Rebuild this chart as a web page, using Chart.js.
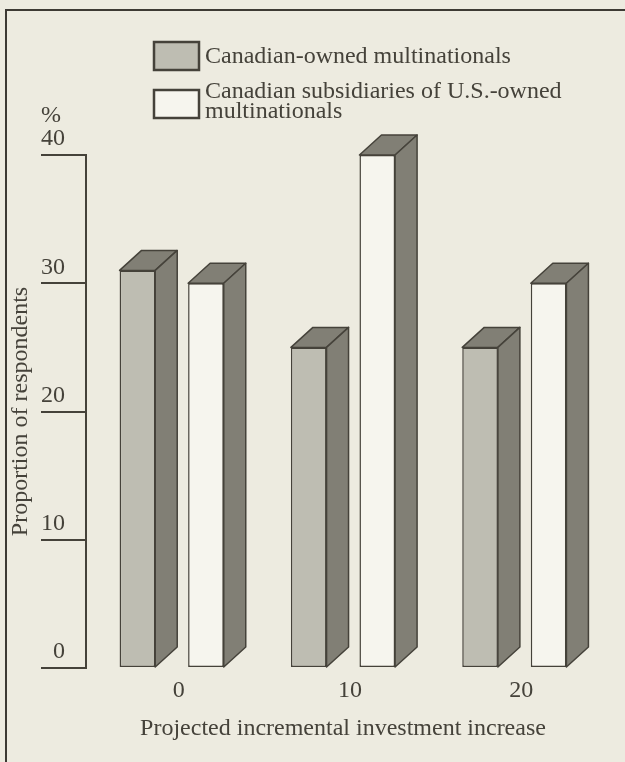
<!DOCTYPE html>
<html>
<head>
<meta charset="utf-8">
<script src="https://cdn.jsdelivr.net/npm/chart.js@4.4.1/dist/chart.umd.min.js"></script>
<style>
  html, body { margin: 0; padding: 0; background: #edebe0; overflow: hidden; }
  body { width: 625px; height: 762px; position: relative; }
  .frame {
    position: absolute; left: 5px; top: 9px; width: 700px; height: 800px;
    border-left: 2px solid #3d3a34; border-top: 2px solid #3d3a34;
  }
  .wrap { position: absolute; left: 0; top: 0; width: 625px; height: 762px; }
</style>
</head>
<body>
<div class="frame"></div>
<div class="wrap"><canvas id="chart" width="625" height="762"></canvas></div>
<script>
// Projected incremental investment increase (categories)
const categories = ['0', '10', '20'];
// Proportion of respondents, %
const canadianOwned = [31, 25, 25];
const usSubsidiaries = [30, 40, 30];
const seriesNames = ['Canadian-owned multinationals', ['Canadian subsidiaries of U.S.-owned', 'multinationals']];
const yTicks = [0, 10, 20, 30, 40];

const INK = '#45423a';
const GREY_FACE = '#bebdb2';
const WHITE_FACE = '#f6f5ee';
const DARK_FACE = '#817f75';
const FONT = '"Liberation Serif", "Times New Roman", serif';

// Draws the extruded top and right-hand faces of each bar
const bar3d = {
  id: 'bar3d',
  afterDatasetsDraw(chart) {
    const ctx = chart.ctx;
    const dx = 22, dy = 20;
    chart.data.datasets.forEach((ds, i) => {
      const meta = chart.getDatasetMeta(i);
      meta.data.forEach(bar => {
        const p = bar.getProps(['x', 'y', 'base', 'width'], true);
        const l = p.x - p.width / 2, r = p.x + p.width / 2;
        ctx.save();
        ctx.fillStyle = DARK_FACE;
        ctx.strokeStyle = INK;
        ctx.lineWidth = 1.5;
        ctx.lineJoin = 'round';
        ctx.beginPath();
        ctx.moveTo(l, p.y);
        ctx.lineTo(l + dx, p.y - dy);
        ctx.lineTo(r + dx, p.y - dy);
        ctx.lineTo(r, p.y);
        ctx.closePath();
        ctx.fill(); ctx.stroke();
        ctx.beginPath();
        ctx.moveTo(r, p.y);
        ctx.lineTo(r + dx, p.y - dy);
        ctx.lineTo(r + dx, p.base - dy);
        ctx.lineTo(r, p.base);
        ctx.closePath();
        ctx.fill(); ctx.stroke();
        ctx.restore();
      });
    });
  }
};

// Stacked legend at the top and the "%" unit over the value axis
const legendAndUnit = {
  id: 'legendAndUnit',
  afterDraw(chart) {
    const ctx = chart.ctx;
    ctx.save();
    ctx.font = '24px ' + FONT;
    ctx.fillStyle = INK;
    ctx.textAlign = 'left';
    ctx.textBaseline = 'alphabetic';
    const rows = [{ top: 42, text: seriesNames[0] }, { top: 90, text: seriesNames[1] }];
    rows.forEach((row, i) => {
      const ds = chart.data.datasets[i];
      ctx.fillStyle = ds.backgroundColor;
      ctx.strokeStyle = INK;
      ctx.lineWidth = 2.5;
      ctx.fillRect(154, row.top, 45, 28);
      ctx.strokeRect(154, row.top, 45, 28);
      ctx.fillStyle = INK;
      const lines = Array.isArray(row.text) ? row.text : [row.text];
      lines.forEach((t, k) => ctx.fillText(t, 205, row.top + 21 + (i === 1 ? -13 : 0) + k * 20));
    });
    const ys = chart.scales.y;
    ctx.fillText('%', 41, ys.getPixelForValue(40) - 33);
    ctx.restore();
  }
};

new Chart(document.getElementById('chart'), {
  type: 'bar',
  data: {
    labels: categories,
    datasets: [
      {
        label: 'Canadian-owned multinationals',
        data: canadianOwned,
        backgroundColor: GREY_FACE,
        borderColor: INK,
        borderWidth: 1.5,
        borderSkipped: false
      },
      {
        label: 'Canadian subsidiaries of U.S.-owned multinationals',
        data: usSubsidiaries,
        backgroundColor: WHITE_FACE,
        borderColor: INK,
        borderWidth: 1.5,
        borderSkipped: false
      }
    ]
  },
  plugins: [bar3d, legendAndUnit],
  options: {
    responsive: false,
    animation: false,
    events: [],
    layout: { padding: { left: 0, top: 155, right: 25, bottom: 0 } },
    categoryPercentage: 0.8,
    barPercentage: 0.52,
    plugins: { legend: { display: false }, tooltip: { enabled: false } },
    scales: {
      x: {
        grid: { display: false, drawTicks: false },
        border: { display: false },
        ticks: { color: INK, font: { family: FONT, size: 24 }, padding: 8, labelOffset: 7, maxRotation: 0 },
        title: {
          display: true,
          text: 'Projected incremental investment increase',
          color: INK,
          font: { family: FONT, size: 24 },
          padding: { top: 0, bottom: 19 }
        },
        afterFit(scale) { scale.height = 94; }
      },
      y: {
        min: 0,
        max: 40,
        afterBuildTicks(scale) { scale.ticks = yTicks.map(v => ({ value: v })); },
        grid: { drawOnChartArea: false, color: INK, lineWidth: 2, tickLength: 45 },
        border: { display: true, color: INK, width: 2 },
        ticks: {
          color: INK,
          font: { family: FONT, size: 24 },
          padding: -24,
          labelOffset: -16,
          crossAlign: 'near'
        },
        title: {
          display: true,
          text: 'Proportion of respondents',
          color: INK,
          font: { family: FONT, size: 24 },
          padding: { top: 6, bottom: 0 }
        },
        afterFit(scale) { scale.width = 86; }
      }
    }
  }
});
</script>
</body>
</html>
